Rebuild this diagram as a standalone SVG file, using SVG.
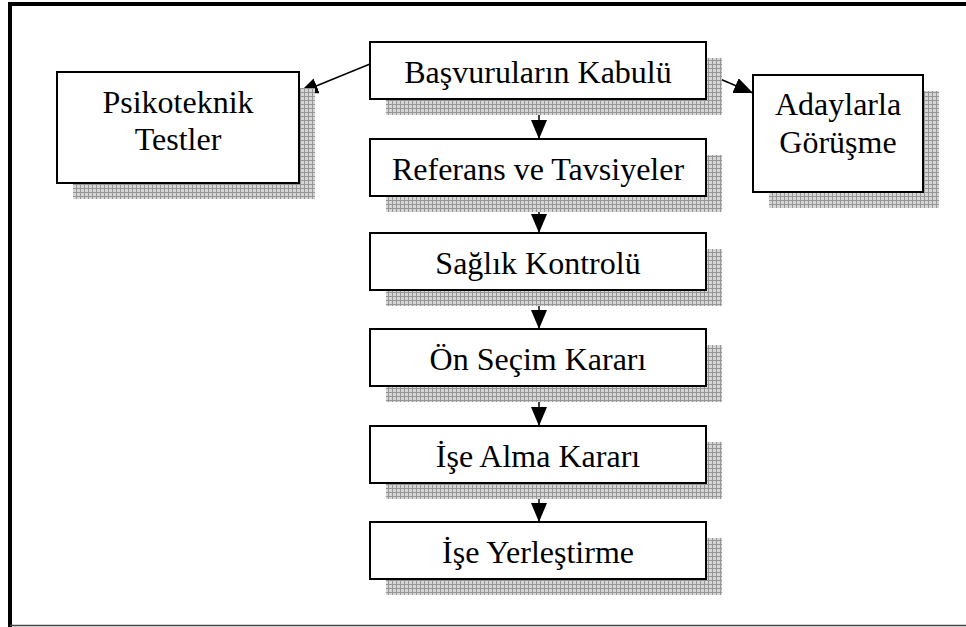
<svg xmlns="http://www.w3.org/2000/svg" width="966" height="627" viewBox="0 0 966 627">
<defs>
<pattern id="grid" width="4" height="4" patternUnits="userSpaceOnUse">
<rect width="4" height="4" fill="#d6d6d6"/>
<path d="M0 0.5H4M0.5 0V4" stroke="#969696" stroke-width="1"/>
</pattern>
<marker id="ah" markerUnits="userSpaceOnUse" markerWidth="20" markerHeight="16" refX="19" refY="8" orient="auto">
<path d="M0 0L19 8L0 16Z" fill="#000"/>
</marker>
<style>
.box{fill:#fff;stroke:#000;stroke-width:2}
.sh{fill:url(#grid)}
.t{font-family:"Liberation Serif","Times New Roman",serif;font-size:32px;fill:#000;text-anchor:middle}
.c{stroke:#000;stroke-width:1.5;fill:none;marker-end:url(#ah)}
</style>
</defs>
<rect width="966" height="627" fill="#fff"/>
<path d="M10 627V4H966" fill="none" stroke="#000" stroke-width="4"/>
<line x1="10" y1="625.5" x2="966" y2="625.5" stroke="#444" stroke-width="1.5"/>

<g id="connectors">
<line class="c" x1="370" y1="64" x2="299" y2="93"/>
<line class="c" x1="706" y1="73" x2="753" y2="93"/>
<line class="c" x1="539" y1="99" x2="539" y2="139"/>
<line class="c" x1="539" y1="196" x2="539" y2="233"/>
<line class="c" x1="539" y1="290" x2="539" y2="329"/>
<line class="c" x1="539" y1="386" x2="539" y2="426"/>
<line class="c" x1="539" y1="483" x2="539" y2="522"/>
</g>

<g id="n-basvuru">
<rect class="sh" x="386" y="58" width="336" height="57"/>
<rect class="box" x="370" y="42" width="336" height="57"/>
<text class="t" x="538" y="83">Başvuruların Kabulü</text>
</g>
<g id="n-referans">
<rect class="sh" x="386" y="155" width="336" height="57"/>
<rect class="box" x="370" y="139" width="336" height="57"/>
<text class="t" x="538" y="180">Referans ve Tavsiyeler</text>
</g>
<g id="n-saglik">
<rect class="sh" x="386" y="249" width="336" height="57"/>
<rect class="box" x="370" y="233" width="336" height="57"/>
<text class="t" x="538" y="274">Sağlık Kontrolü</text>
</g>
<g id="n-onsecim">
<rect class="sh" x="386" y="345" width="336" height="57"/>
<rect class="box" x="370" y="329" width="336" height="57"/>
<text class="t" x="538" y="370">Ön Seçim Kararı</text>
</g>
<g id="n-isealma">
<rect class="sh" x="386" y="442" width="336" height="57"/>
<rect class="box" x="370" y="426" width="336" height="57"/>
<text class="t" x="538" y="467">İşe Alma Kararı</text>
</g>
<g id="n-yerlestirme">
<rect class="sh" x="386" y="538" width="336" height="57"/>
<rect class="box" x="370" y="522" width="336" height="57"/>
<text class="t" x="538" y="563">İşe Yerleştirme</text>
</g>
<g id="n-psiko">
<rect class="sh" x="73" y="88" width="242" height="111"/>
<rect class="box" x="57" y="72" width="242" height="111"/>
<text class="t" x="178" y="113">Psikoteknik</text>
<text class="t" x="178" y="150">Testler</text>
</g>
<g id="n-aday">
<rect class="sh" x="769" y="91" width="170" height="117"/>
<rect class="box" x="753" y="75" width="170" height="117"/>
<text class="t" x="838" y="115">Adaylarla</text>
<text class="t" x="838" y="153">Görüşme</text>
</g>
</svg>
